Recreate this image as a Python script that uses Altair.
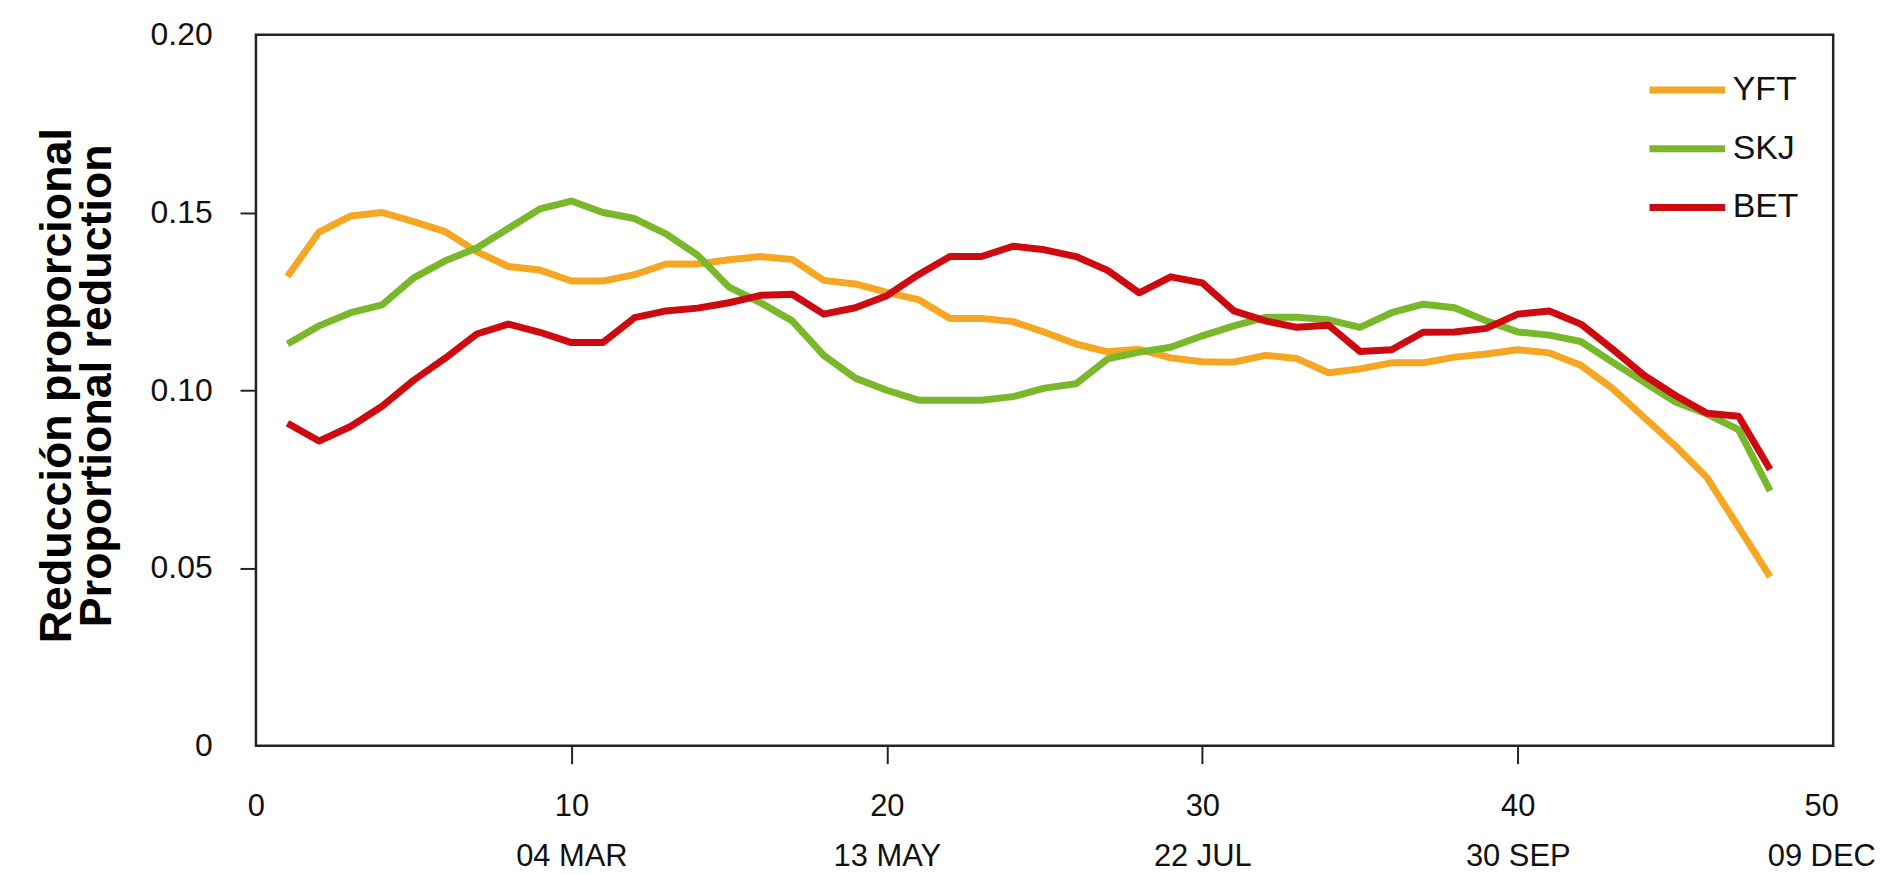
import altair as alt
import pandas as pd

# ---------------- data ----------------
weeks = list(range(1, 49))

yft = [0.1320, 0.1445, 0.1490, 0.1500, 0.1474, 0.1446, 0.1390, 0.1348, 0.1338, 0.1307,
       0.1307, 0.1325, 0.1355, 0.1355, 0.1367, 0.1376, 0.1368, 0.1309, 0.1299, 0.1275,
       0.1255, 0.1202, 0.1202, 0.1193, 0.1163, 0.1130, 0.1108, 0.1115, 0.1091, 0.1080,
       0.1079, 0.1098, 0.1089, 0.1049, 0.1060, 0.1077, 0.1077, 0.1093, 0.1102, 0.1114,
       0.1105, 0.1070, 0.1005, 0.0924, 0.0843, 0.0754, 0.0615, 0.0475]

skj = [0.1130, 0.1181, 0.1218, 0.1240, 0.1316, 0.1364, 0.1400, 0.1455, 0.1510, 0.1532,
       0.1500, 0.1483, 0.1440, 0.1380, 0.1290, 0.1246, 0.1195, 0.1098, 0.1034, 0.1000,
       0.0972, 0.0972, 0.0972, 0.0982, 0.1006, 0.1018, 0.1088, 0.1107, 0.1121, 0.1153,
       0.1181, 0.1205, 0.1205, 0.1198, 0.1177, 0.1218, 0.1242, 0.1232, 0.1195, 0.1164,
       0.1155, 0.1137, 0.1079, 0.1023, 0.0967, 0.0933, 0.0889, 0.0717]

bet = [0.0907, 0.0857, 0.0898, 0.0955, 0.1028, 0.1090, 0.1158, 0.1186, 0.1163, 0.1134,
       0.1134, 0.1204, 0.1223, 0.1231, 0.1246, 0.1267, 0.1270, 0.1214, 0.1232, 0.1266,
       0.1325, 0.1376, 0.1376, 0.1405, 0.1395, 0.1376, 0.1337, 0.1274, 0.1319, 0.1302,
       0.1223, 0.1195, 0.1177, 0.1183, 0.1109, 0.1114, 0.1163, 0.1164, 0.1174, 0.1214,
       0.1223, 0.1186, 0.1116, 0.1042, 0.0985, 0.0935, 0.0927, 0.0777]

species = ["YFT", "SKJ", "BET"]
colors = ["#F5A623", "#78B82A", "#CC0A10"]

x_ticks = [0, 10, 20, 30, 40, 50]
date_labels = ["", "04 MAR", "13 MAY", "22 JUL", "30 SEP", "09 DEC"]
y_ticks = [0, 0.05, 0.10, 0.15, 0.20]

y_title = ["Reducción proporcional", "Proportional reduction"]

# ---------------- table ----------------
rows = []
for sp, vals in zip(species, [yft, skj, bet]):
    for w, v in zip(weeks, vals):
        rows.append({"week": w, "value": v, "species": sp})
df = pd.DataFrame(rows)

FONT = "Liberation Sans, Arial, Helvetica, sans-serif"

# x labels: number on first line, date on second
parts = []
for t, d in zip(x_ticks, date_labels):
    if d:
        parts.append(f"datum.value == {t} ? ['{t}', '{d}']")
    else:
        parts.append(f"datum.value == {t} ? '{t}'")
x_label_expr = " : ".join(parts) + " : datum.label"

x_edge = f"datum.value == {x_ticks[0]} || datum.value == {x_ticks[-1]}"
y_edge = f"datum.value == {y_ticks[0]} || datum.value == {y_ticks[-1]}"
x_last = f"datum.value == {x_ticks[-1]}"

chart = alt.Chart(df).mark_line(strokeWidth=7, strokeJoin="round").encode(
    x=alt.X(
        "week:Q",
        scale=alt.Scale(domain=[x_ticks[0], x_ticks[-1]], nice=False, zero=False),
        axis=alt.Axis(
            values=x_ticks,
            title=None,
            domain=False,
            grid=False,
            tickSize=18,
            tickWidth=2,
            tickColor="#222222",
            tickOpacity={"condition": {"test": x_edge, "value": 0}, "value": 1},
            labelExpr=x_label_expr,
            labelFont=FONT,
            labelFontSize=31,
            labelColor="#111111",
            labelPadding=28,
            labelLineHeight=50,
            labelBaseline="top",
            labelOffset={"condition": {"test": x_last, "value": -12}, "value": 0},
            labelFlush=False,
            labelOverlap=False,
        ),
    ),
    y=alt.Y(
        "value:Q",
        scale=alt.Scale(domain=[y_ticks[0], y_ticks[-1]], nice=False),
        axis=alt.Axis(
            values=y_ticks,
            title=y_title,
            titleFont=FONT,
            titleFontSize=45,
            titleFontWeight="bold",
            titleColor="#000000",
            titleLineHeight=40,
            titleX=-200,
            titleY=352,
            titleAngle=-90,
            titleBaseline="middle",
            titleAlign="center",
            domain=False,
            grid=False,
            tickSize=16,
            tickWidth=2,
            tickColor="#222222",
            tickOpacity={"condition": {"test": y_edge, "value": 0}, "value": 1},
            labelExpr="datum.value == 0 ? '0' : format(datum.value, '.2f')",
            labelFont=FONT,
            labelFontSize=32,
            labelColor="#111111",
            labelPadding=28,
            labelFlush=False,
            labelOverlap=False,
        ),
    ),
    color=alt.Color(
        "species:N",
        scale=alt.Scale(domain=species, range=colors),
        sort=species,
        legend=alt.Legend(
            title=None,
            orient="none",
            legendX=1396,
            legendY=14,
            symbolType="stroke",
            symbolSize=5776,
            symbolStrokeWidth=7,
            labelFont=FONT,
            labelFontSize=34,
            labelColor="#111111",
            labelOffset=4,
            rowPadding=0,
            padding=0,
        ),
    ),
).properties(
    width=1584,
    height=714,
    autosize=alt.AutoSizeParams(type="none"),
    padding={"left": 249, "top": 25, "right": 48, "bottom": 125},
    background="white",
).configure_view(
    stroke="#222222",
    strokeWidth=2.5,
)

chart.save("out.html", embed_options={"renderer": "svg", "actions": False})
